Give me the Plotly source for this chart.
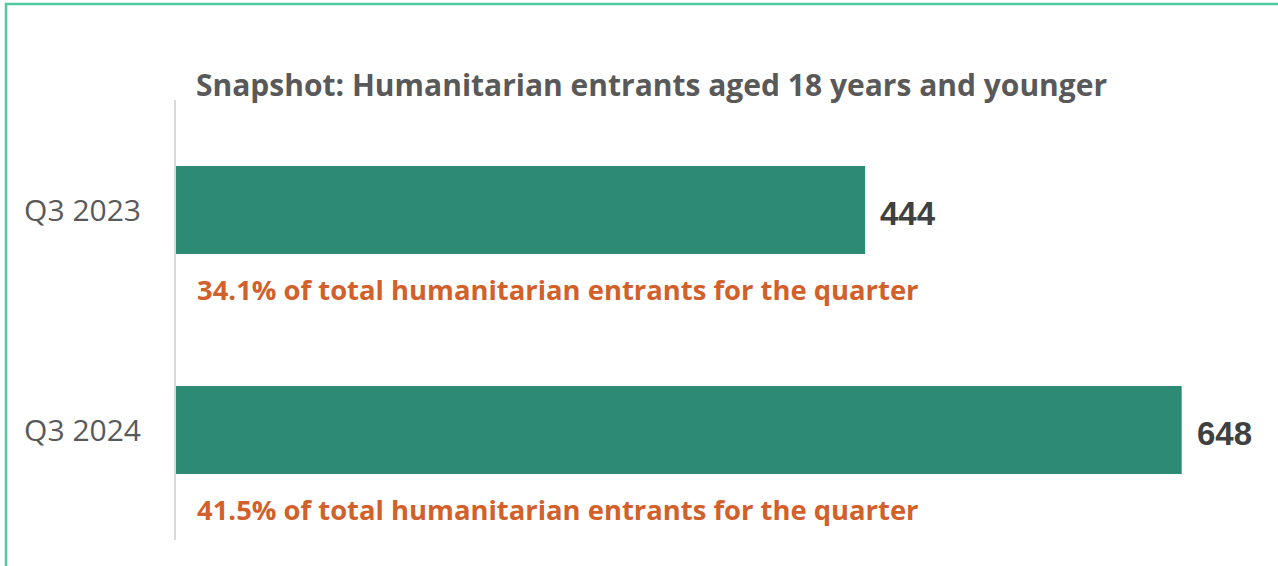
import plotly.graph_objects as go

categories = ["Q3 2023", "Q3 2024"]
values = [444, 648]
share_pct = [34.1, 41.5]
title_text = "Snapshot: Humanitarian entrants aged 18 years and younger"

W, H = 1278, 566
L, R, T, B = 176, 8, 100, 26
plot_w = W - L - R
plot_h = H - T - B
px_per_unit = 1.552
xmax = plot_w / px_per_unit

fig = go.Figure()
fig.add_trace(go.Bar(
    x=values, y=categories, orientation="h",
    marker=dict(color="#2D8B74", line=dict(width=0)),
    width=0.4, hoverinfo="skip",
))

annotations = []
for c, v, p in zip(categories, values, share_pct):
    annotations.append(dict(
        x=v, y=c, xref="x", yref="y", text=f"<b>{v}</b>", showarrow=False,
        xanchor="left", yanchor="middle", xshift=13, yshift=-3,
        font=dict(family="Liberation Sans", size=33, color="#404040"),
    ))
    annotations.append(dict(
        x=0, y=c, xref="x", yref="y",
        text=f"<b>{p:.1f}% of total humanitarian entrants for the quarter</b>",
        showarrow=False, xanchor="left", yanchor="middle", xshift=19, yshift=-79,
        font=dict(family="Open Sans", size=27.4, color="#D2602A"),
    ))

annotations.append(dict(
    x=(194 - L) / plot_w, y=(H - B - 85) / plot_h, xref="paper", yref="paper",
    text=f"<b>{title_text}</b>", showarrow=False, xanchor="left", yanchor="middle",
    font=dict(family="Open Sans", size=30, color="#595959"),
))

# outer border
bx0 = (6 - L) / plot_w
bx1 = (W + 10 - L) / plot_w
by1 = (H - B - 4) / plot_h
by0 = (H - B - H - 10) / plot_h

fig.update_layout(
    width=W, height=H,
    margin=dict(l=L, r=R, t=T, b=B),
    paper_bgcolor="white", plot_bgcolor="white",
    showlegend=False,
    annotations=annotations,
    shapes=[dict(type="rect", xref="paper", yref="paper", x0=bx0, x1=bx1, y0=by0, y1=by1,
                 line=dict(color="#4CCBA3", width=2.5), fillcolor="rgba(0,0,0,0)", layer="above")],
    xaxis=dict(range=[0, xmax], visible=False, fixedrange=True),
    yaxis=dict(
        autorange="reversed", showline=True, linecolor="#D9D9D9", linewidth=2,
        showgrid=False, zeroline=False, ticks="", ticklabelstandoff=27,
        tickfont=dict(family="Open Sans", size=30, color="#595959"),
        fixedrange=True,
    ),
)

fig.write_html("out.html", config={"displayModeBar": False},
               post_script="document.body.style.margin='0';")
